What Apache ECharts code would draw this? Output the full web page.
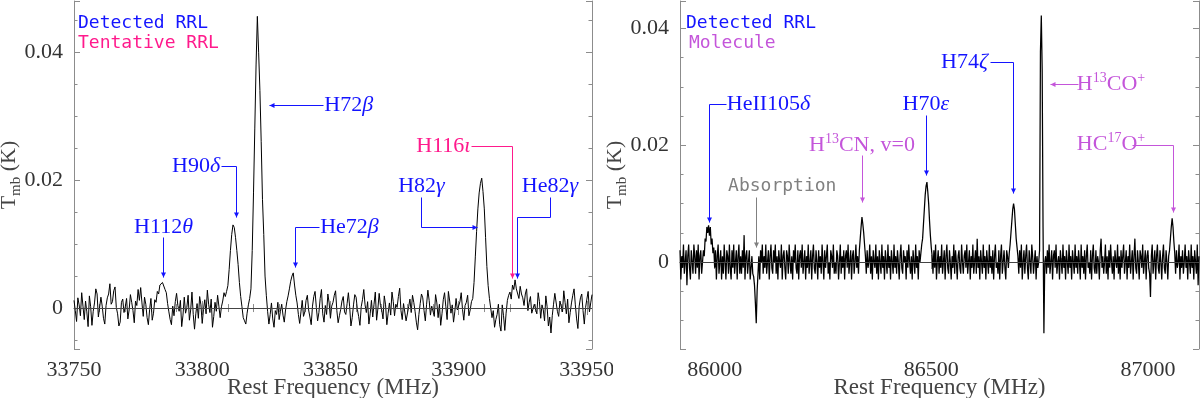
<!DOCTYPE html>
<html>
<head>
<meta charset="utf-8">
<title>RRL spectra</title>
<script src="https://cdn.jsdelivr.net/npm/echarts@6.0.0/dist/echarts.min.js"></script>
<style>
  html, body { margin: 0; padding: 0; background: #fff; }
  #chart { width: 1200px; height: 398px; }
</style>
</head>
<body>
<div id="chart"></div>
<script>
// ---- spectra: Tmb in mK, channels evenly spaced ----
const leftFreq0 = 33750;   // MHz, first channel
const leftStep = 0.5;      // MHz per channel
const leftTmb = [
  1.2, -0.4, -2.1, 1.6, 0.5, -1.2, 2.4, 0.3, -1.8, 1.1, -0.6, -2.9, 1.9, 0.2, -2.7, -0.5, 0.8, 3.0, 2.2, -1.4,
  -1.1, 1.7, 0.3, -1.6, -2.5, 0.4, 1.6, 2.2, 3.8, 0.6, 1.0, 2.7, 3.3, 0.1, -0.9, -2.8, -2.2, 0.9, 1.4, -0.7,
  0.2, 1.5, -1.7, -0.3, 2.1, 0.9, -0.4, -2.3, 1.1, 0.4, 2.9, 1.2, 3.2, 0.8, -1.3, 1.7, 0.6, -1.5, -2.6, -0.2,
  1.5, -1.9, -0.8, 1.3, 0.9, 2.6, 2.2, 3.6, 3.3, 4.0, 4.1, 2.9, 2.4, 0.7, -0.6, -1.8, -2.6, 0.3, -1.2, 1.0,
  2.3, 0.4, -0.5, 1.2, -2.9, -1.1, 1.7, -0.8, 0.1, 2.0, -1.9, -0.3, 2.5, -1.0, -3.3, -0.9, 0.7, -1.6, 1.8, 0.5,
  -2.4, -0.2, 1.3, -0.9, 2.8, 0.6, -0.7, 1.4, -3.0, -1.3, 0.9, -0.5, 2.0, 0.3, -1.5, 0.2, 1.1, 2.4, 1.8, 2.6,
  3.5, 6.0, 9.0, 11.5, 13.0, 12.6, 11.0, 9.0, 6.8, 4.0, 1.8, 0.2, -1.5, -2.0, -2.5, -0.8, 0.5, 1.5, 3.0, 9.0,
  18.0, 28.0, 38.0, 45.6, 40.0, 34.0, 26.0, 17.0, 11.5, 5.0, 2.0, -0.5, -2.5, -1.0, 0.8, -1.7, -3.0, -0.4, -1.0, 0.9,
  -1.8, -0.5, 0.6, -1.1, -2.2, -0.3, 1.0, 1.9, 3.0, 4.2, 5.0, 5.5, 3.6, 2.0, 0.8, -1.0, -2.4, -0.6, 1.2, -1.3,
  -0.6, 1.2, 2.0, -0.3, -1.4, -2.6, 0.3, 1.8, 2.6, 0.1, -2.0, -0.7, 1.5, 2.9, -0.9, -2.2, 0.4, -1.0, 2.2, 0.8,
  -1.6, 0.3, 0.9, 2.0, 2.7, -0.4, -2.3, -1.2, -0.2, 1.1, 1.8, -0.6, -1.0, 0.7, 2.4, 0.2, -2.8, -1.5, 0.5, 2.1,
  1.7, -0.2, -1.3, -2.7, 0.2, 1.3, 2.9, 0.5, -0.7, 1.0, -2.5, -0.9, 1.2, -1.4, 0.6, 2.5, -1.9, -0.1, 2.3, 0.4,
  -0.3, -1.7, 1.9, 0.5, -2.6, -0.8, 0.8, -1.1, 2.5, 1.0, -1.2, 0.6, 0.1, 1.8, 3.1, -0.4, -1.8, 0.7, 0.9, -2.0,
  -2.1, 0.2, 1.4, -0.7, 2.0, 0.9, -0.5, -2.2, -3.4, -1.0, 0.7, 2.2, 1.6, -0.4, -2.0, 0.6, 2.8, 1.2, -1.1, 0.3,
  0.4, -1.3, 2.1, 0.8, -1.5, 0.6, -2.7, -0.9, 1.3, 2.4, 0.2, -1.8, 2.6, 1.1, -0.8, 0.5, -2.2, -0.6, 1.5, -0.3,
  -0.6, 1.0, 2.4, -0.2, -1.9, 0.4, 0.9, 2.0, -1.2, -0.3, 1.0, 1.5, 4.0, 8.0, 12.0, 15.5, 18.0, 19.5, 20.3, 18.2,
  15.5, 11.0, 6.5, 3.5, 1.5, 0.0, -1.5, -0.4, -3.0, -1.8, -1.0, 0.6, -2.6, -3.6, 0.5, -1.2, -3.5, -0.8, 1.2, 2.0,
  2.5, 1.4, 3.6, 2.9, 4.4, 3.0, 2.8, 1.5, 3.4, 2.2, 1.6, 0.4, 2.2, 3.0, -0.4, 0.9, 1.8, -0.8, -1.1, 0.6,
  0.7, -0.9, 2.4, 1.0, -1.6, 0.5, -0.3, -2.0, 1.9, 0.2, -2.8, -1.4, -3.9, -1.2, 0.6, 2.3, 2.0, -0.5, -1.3, 1.1,
  1.1, -0.6, 2.7, 0.9, -0.9, 1.4, -2.3, -0.7, 0.8, 2.0, 3.0, 0.5, -1.7, -3.2, 0.3, 1.6, 2.2, -0.4, -2.5, 0.1,
  1.4, 2.6, -0.6, 0.8, 2.1
];

const rightFreq0 = 85920;
const rightStep = 2;
const rightTmb = [
  2, -3, 1, -1, 3, -2, 0, 2, -4, 1,
  3, -1, -3, 2, 0, -2, 3, 1, -2, 2,
  -1, 3, -3, 1, 2, -2, 0, 2, 1, 4,
  3.5, 6, 5, 6.3, 4.5, 6, 3, 4, 1.5, 2.5,
  -1, 2, -3, 1, 3, -2, 0, 2, -3, 1,
  -2, 3, 0, -3, 2, 1, -2, 3, -1, -3,
  2, -1, 3, -2, 0, 2, -3, 1, 3, -2,
  1, -2, 2, -1, 4.6, -3, 1, 2, -2, 0,
  2, -3, -1, 1, -2, -2.5, -4, -7, -10.5, -5,
  -2, 1, -3, 2, 0, 3, -2, 1, -1, 3,
  -2, 0, 2, -3, 1, 3, -1, -2, 2, 0,
  3, -2, 1, -3, 2, 0, -1, 3, -3, 1,
  2, -1, -3, 2, 1, -2, 3, 0, -2, 1,
  -3, 2, 0, 3, -1, -2, 2, -3, 1, 2,
  -1, 3, -2, 0, 2, -3, 1, -1, 3, -2,
  0, 2, -3, 1, 3, -1, -2, 2, 0, -3,
  2, -1, 1, -2, 3, 0, -3, 2, -1, 1,
  3, -2, 0, -3, 2, 1, -1, 3, -2, 0,
  -2, 2, 1, -3, 0, 3, -2, 1, -1, 2,
  -3, 1, 2, -1, 3, -2, 0, 2, -3, 1,
  2, -2, 0, 3, -1, 1, -2, 2, 4, 6,
  7.7, 6.5, 5, 3, 1, -2, 2, -1, 0, 3,
  -2, 1, -3, 2, 0, -1, 3, -2, 1, -3,
  2, 0, -2, 3, -1, 1, -3, 2, 0, -2,
  3, -1, 1, -3, 2, 0, -2, 3, -1, 1,
  -2, 2, 0, -3, 1, 3, -1, -2, 2, 0,
  1, -3, 2, -1, 3, 0, -2, 1, -3, 2,
  0, -2, 3, -1, 1, -3, 2, 0, 1.5, 3,
  4, 6.5, 9, 11.5, 13, 13.7, 12, 10, 7, 4.5,
  2.5, 1, -2, 2, -1, 3, -3, 0, 2, -2,
  1, -1, 3, -2, 0, 2, -3, 1, 3, -1,
  -2, 2, 0, -3, 1, -1, 3, -2, 2, 0,
  -3, 1, 2, -1, -2, 3, 0, -2, 1, 2,
  -1, 3, -2, 0, 2, -3, 1, -1, 3, -2,
  0, 2, -2, 4, -1, 1, -3, 2, 0, -2,
  3, -1, 1, -3, 2, 0, -2, 3, -1, 1,
  -2, 2, -3, 1, 3, -1, 0, -2, 2, -3,
  1, 3, -2, 0, 2, -1, -3, 2, 1, -1,
  1.5, 3, 5, 7, 9, 10, 9, 6.5, 4, 2.5,
  1, -2, 2, -1, 3, -3, 0, 2, -2, 1,
  3, -1, -3, 2, 0, -2, 3, 1, -2, 0,
  2, -3, 1, -1, 0, 2, 36, 42.2, 33, 6,
  -12.2, 0, 1, -2, 2, -1, 3, -2, 0, 2,
  -3, 1, 2, -1, 3, -2, 0, 1, -3, 2,
  0, -2, 3, -1, 1, -3, 2, 0, -2, 3,
  -1, 1, -3, 2, 0, -2, 3, -1, 1, -2,
  2, 0, -3, 3, -1, 1, -2, 2, -3, 1,
  3, -1, 0, -2, 2, -3, 1, 3, -1, -2,
  2, -2, 1, 0, -3, 2, 4, -1, 1, -2,
  0, 3, -2, 1, -3, 2, -1, 3, 0, -2,
  1, -3, 2, 0, -1, 3, -2, 1, -3, 2,
  -1, 1, 3, -2, 0, 2, -3, 1, -1, 3,
  -2, 0, 2, -3, 1, 4, -1, -2, 2, 0,
  -3, 2, 1, -1, 3, -2, 0, 2, -3, 1,
  2, -1, -2, -6, 1, 3, -2, 0, 2, -3,
  1, 3, -1, -2, 2, 0, -3, 1, 3, -1,
  -2, 2, 0, -3, 1, 2, 4, 6, 7.5, 6,
  3.5, 1.5, -2, 2, -1, 0, 3, -3, 1, -1,
  2, -2, 0, 3, -1, 1, -3, 2, 0, -2,
  3, -1, 1, -3, 2, 0, -2, 3, -4, 1
];

// axis extents and tick labels
const leftFreqRange = [33750, 33952];
const leftTmbRange = [-0.0064, 0.048];
const rightFreqRange = [85920, 87118];
const rightTmbRange = [-0.0149, 0.0447];
const leftFreqLabels = [33750, 33800, 33850, 33900, 33950];
const rightFreqLabels = [86000, 86500, 87000];
const tmbLabels = [0, 0.02, 0.04];

const blue = '#1414ff';
const pink = '#ff1a8c';
const violet = '#c455da';
const grey = '#808080';
const frame = '#8c8c8c';
const serif = '"Liberation Serif", "DejaVu Serif", serif';
const mono = '"DejaVu Sans Mono", monospace';

// line identifications: label anchor and leader line in (MHz, K)
const leftNotes = [
  { text: '{r|H72}{i|β}', color: blue, align: 'left', at: [33847.6, 0.0317],
    leader: [[33847.1, 0.0317], [33826.1, 0.0317]] },
  { text: '{r|H90}{i|δ}', color: blue, align: 'right', at: [33807.0, 0.0222],
    leader: [[33807.3, 0.0222], [33813.2, 0.0222], [33813.2, 0.0142]] },
  { text: '{r|H112}{i|θ}', color: blue, align: 'center', at: [33784.9, 0.0127],
    leader: [[33784.9, 0.0111], [33784.9, 0.0048]] },
  { text: '{r|He72}{i|β}', color: blue, align: 'left', at: [33846.0, 0.0127],
    leader: [[33845.6, 0.0127], [33836.2, 0.0127], [33836.2, 0.0064]] },
  { text: '{r|H82}{i|γ}', color: blue, align: 'center', at: [33885.5, 0.0191],
    leader: [[33885.3, 0.0173], [33885.3, 0.0127], [33907.0, 0.0127]] },
  { text: '{r|H116}{i|ι}', color: pink, align: 'right', at: [33904.6, 0.0253],
    leader: [[33904.8, 0.0253], [33920.8, 0.0253], [33920.8, 0.0047]] },
  { text: '{r|He82}{i|γ}', color: blue, align: 'center', at: [33935.6, 0.0191],
    leader: [[33935.6, 0.0173], [33935.6, 0.0142], [33922.8, 0.0142], [33922.8, 0.0047]] }
];

const rightNotes = [
  { text: '{r|HeII105}{i|δ}', color: blue, align: 'left', at: [86028, 0.0271],
    leader: [[86026, 0.0271], [85986.8, 0.0271], [85986.8, 0.0069]] },
  { text: '{m|Absorption}', color: grey, align: 'center', at: [86156, 0.0130],
    leader: [[86095.3, 0.0111], [86095.3, 0.0026]] },
  { text: '{r|H}{s|13}{r|CN, v=0}', color: violet, align: 'center', at: [86340, 0.0200],
    leader: [[86341, 0.0183], [86341, 0.0103]] },
  { text: '{r|H70}{i|ε}', color: blue, align: 'center', at: [86487.6, 0.0270],
    leader: [[86487.6, 0.0252], [86487.6, 0.0149]] },
  { text: '{r|H74}{i|ζ}', color: blue, align: 'right', at: [86630.5, 0.0342],
    leader: [[86635.3, 0.0342], [86688.4, 0.0342], [86688.4, 0.0118]] },
  { text: '{r|H}{s|13}{r|CO}{s|+}', color: violet, align: 'left', at: [86836, 0.0305],
    leader: [[86838.4, 0.0305], [86773.8, 0.0305]] },
  { text: '{r|HC}{s|17}{r|O}{s|+}', color: violet, align: 'left', at: [86836, 0.0201],
    leader: [[86963.3, 0.0201], [87058, 0.0201], [87058, 0.0086]] }
];

const toPoints = (f0, step, mK) => mK.map((v, i) => [f0 + i * step, v / 1000]);

const tickStyle = { color: frame, width: 1 };
function freqAxes(gridIndex, range, labels, step) {
  const base = {
    type: 'value', gridIndex, min: range[0], max: range[1],
    minInterval: step, maxInterval: step,
    splitLine: { show: false },
    axisLine: { show: true, lineStyle: tickStyle },
    axisTick: { inside: true, length: 7, lineStyle: tickStyle },
    minorTick: { show: true, splitNumber: 5, length: 4, lineStyle: tickStyle }
  };
  return [
    Object.assign({}, base, {
      position: 'bottom',
      axisLabel: { customValues: labels, margin: 10, color: '#333', fontFamily: serif, fontSize: 22,
        formatter: v => String(v) },
      name: 'Rest Frequency (MHz)', nameLocation: 'middle', nameGap: 27, nameMoveOverlap: false,
      nameTextStyle: { color: '#444', fontFamily: serif, fontSize: 23 }
    }),
    Object.assign({}, base, { position: 'top', axisLabel: { show: false } })
  ];
}
function tmbAxes(gridIndex, range) {
  const base = {
    type: 'value', gridIndex, min: range[0], max: range[1],
    minInterval: 0.02, maxInterval: 0.02,
    splitLine: { show: false },
    axisLine: { show: true, lineStyle: tickStyle },
    axisTick: { inside: true, length: 6, lineStyle: tickStyle },
    minorTick: { show: true, splitNumber: 4, length: 3.5, lineStyle: tickStyle }
  };
  return [
    Object.assign({}, base, {
      position: 'left',
      axisLabel: { customValues: tmbLabels, margin: 11, color: '#333', fontFamily: serif, fontSize: 22,
        formatter: v => String(v) },
      name: '{t|T}{s|mb}{t| (K)}', nameLocation: 'middle', nameGap: 50, nameRotate: 90,
      nameMoveOverlap: false,
      nameTextStyle: {
        color: '#444', fontFamily: serif, fontSize: 22,
        rich: {
          t: { color: '#444', fontFamily: serif, fontSize: 22, lineHeight: 30 },
          s: { color: '#444', fontFamily: serif, fontSize: 15, lineHeight: 15, verticalAlign: 'bottom' }
        }
      }
    }),
    Object.assign({}, base, { position: 'right', axisLabel: { show: false } })
  ];
}

function spectrum(xi, yi, data, width) {
  return {
    type: 'line', xAxisIndex: xi, yAxisIndex: yi, data,
    symbol: 'none', showSymbol: false, silent: true,
    lineStyle: { color: '#000', width },
    markLine: {
      silent: true, symbol: ['none', 'none'], label: { show: false },
      lineStyle: { color: '#444', width: 1, type: 'solid' },
      data: [{ yAxis: 0 }]
    }
  };
}

const chart = echarts.init(document.getElementById('chart'), null, { renderer: 'canvas' });
chart.setOption({
  animation: false,
  backgroundColor: '#fff',
  grid: [
    { left: 74, top: 1, width: 518, height: 348, outerBoundsMode: 'none', containLabel: false },
    { left: 680, top: 1, width: 519, height: 348, outerBoundsMode: 'none', containLabel: false }
  ],
  xAxis: [].concat(freqAxes(0, leftFreqRange, leftFreqLabels, 50),
                   freqAxes(1, rightFreqRange, rightFreqLabels, 500)),
  yAxis: [].concat(tmbAxes(0, leftTmbRange), tmbAxes(1, rightTmbRange)),
  series: [
    spectrum(0, 0, toPoints(leftFreq0, leftStep, leftTmb), 1),
    spectrum(2, 2, toPoints(rightFreq0, rightStep, rightTmb), 1.25)
  ]
});

const noteRich = {
  r: { fontFamily: serif, fontSize: 22, lineHeight: 26 },
  i: { fontFamily: serif, fontSize: 22, fontStyle: 'italic', lineHeight: 26 },
  s: { fontFamily: serif, fontSize: 14, lineHeight: 14, verticalAlign: 'top' },
  m: { fontFamily: mono, fontSize: 18, lineHeight: 26 }
};
const crisp = v => Math.round(v) + 0.5;

function noteElements(notes, finder) {
  const els = [];
  notes.forEach(n => {
    const pts = n.leader.map(p => chart.convertToPixel(finder, p).map(crisp));
    els.push({ type: 'polyline', silent: true, z: 20, shape: { points: pts },
      style: { stroke: n.color, lineWidth: 1, fill: null } });
    const [x1, y1] = pts[pts.length - 2];
    const [x2, y2] = pts[pts.length - 1];
    const len = Math.hypot(x2 - x1, y2 - y1);
    const ux = (x2 - x1) / len, uy = (y2 - y1) / len;
    const hl = 5, hw = 2.5;
    els.push({ type: 'polygon', silent: true, z: 20,
      shape: { points: [[x2, y2],
        [x2 - ux * hl - uy * hw, y2 - uy * hl + ux * hw],
        [x2 - ux * hl + uy * hw, y2 - uy * hl - ux * hw]] },
      style: { fill: n.color } });
    const at = chart.convertToPixel(finder, n.at);
    const rich = {};
    Object.keys(noteRich).forEach(k => { rich[k] = Object.assign({ fill: n.color }, noteRich[k]); });
    els.push({ type: 'text', silent: true, z: 21, x: at[0], y: at[1],
      style: { text: n.text, rich, fill: n.color, font: '22px ' + serif,
        align: n.align, textAlign: n.align, verticalAlign: 'middle', textVerticalAlign: 'middle' } });
  });
  return els;
}

function keyText(x, y, text, color) {
  return { type: 'text', silent: true, z: 21, x, y,
    style: { text, fill: color, font: '18px ' + mono,
      align: 'left', textAlign: 'left', verticalAlign: 'middle', textVerticalAlign: 'middle' } };
}

chart.setOption({
  graphic: [].concat(
    noteElements(leftNotes, { xAxisIndex: 0, yAxisIndex: 0 }),
    noteElements(rightNotes, { xAxisIndex: 2, yAxisIndex: 2 }),
    [
      keyText(78, 23, 'Detected RRL', blue),
      keyText(78, 43, 'Tentative RRL', pink),
      keyText(686, 23, 'Detected RRL', blue),
      keyText(689, 43, 'Molecule', violet),
      // the left figure's last tick label is cropped where the right figure starts
      { type: 'rect', silent: true, z: 30, shape: { x: 613, y: 352, width: 30, height: 30 },
        style: { fill: '#fff' } }
    ]
  )
});
</script>
</body>
</html>
